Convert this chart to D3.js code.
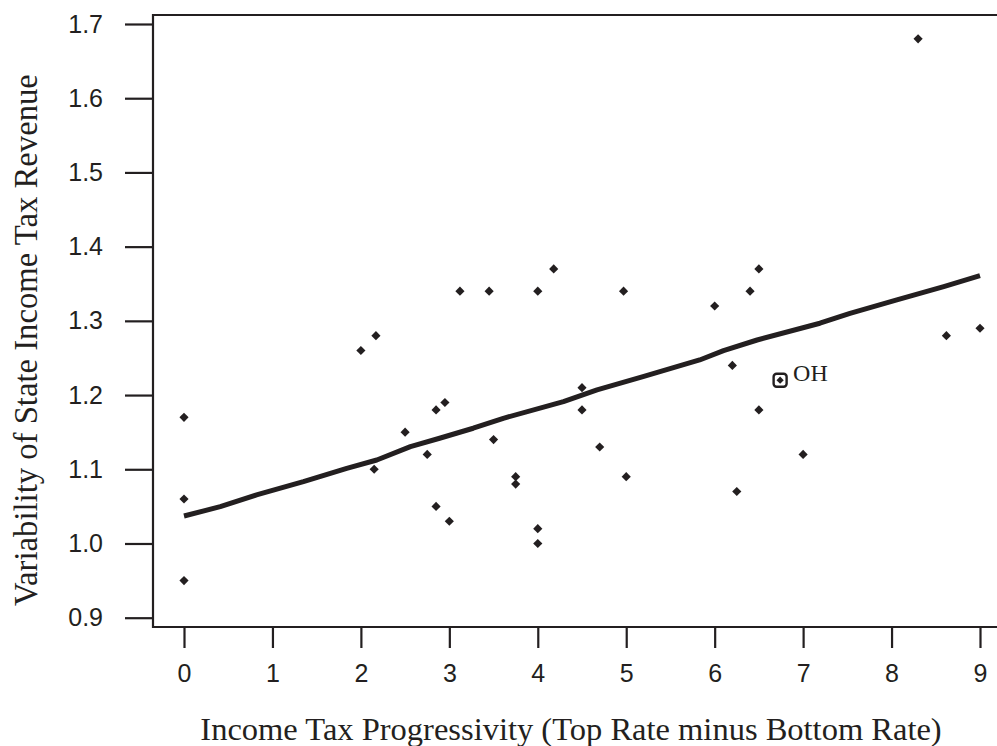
<!DOCTYPE html>
<html>
<head>
<meta charset="utf-8">
<script src="https://cdn.jsdelivr.net/npm/d3@7"></script>
<style>
  html, body { margin: 0; padding: 0; background: #fff; }
  svg { display: block; }
</style>
</head>
<body>
<svg id="chart" width="997" height="746"></svg>
<script>
// ---- data ----
const progressivity = [0, 0, 0, 2.0, 2.17, 2.15, 2.5, 2.75, 2.85, 2.95, 2.85, 3.0, 3.12, 3.45, 3.5, 3.75, 3.75,
  4.0, 4.18, 4.0, 4.0, 4.5, 4.5, 4.7, 4.97, 5.0, 6.0, 6.2, 6.25, 6.4, 6.5, 6.5, 7.0, 8.3, 8.62, 9.0];
const variability = [1.17, 1.06, 0.95, 1.26, 1.28, 1.10, 1.15, 1.12, 1.18, 1.19, 1.05, 1.03, 1.34, 1.34, 1.14, 1.09, 1.08,
  1.34, 1.37, 1.02, 1.00, 1.21, 1.18, 1.13, 1.34, 1.09, 1.32, 1.24, 1.07, 1.34, 1.37, 1.18, 1.12, 1.68, 1.28, 1.29];
const highlightLabel = "OH";
const highlightX = 6.74;
const highlightY = 1.22;
const fitX = [0, 0.41, 0.82, 1.35, 1.84, 2.18, 2.56, 2.89, 3.27, 3.61, 4.29, 4.67, 5.19, 5.83, 6.10, 6.48, 7.19, 7.53, 8.06, 8.59, 9.0];
const fitY = [1.037, 1.0496, 1.0654, 1.0833, 1.1013, 1.1125, 1.1305, 1.1418, 1.1553, 1.1687, 1.1911, 1.2069, 1.2248,
  1.2473, 1.2598, 1.2742, 1.2968, 1.3102, 1.3282, 1.3461, 1.3609];
const xTicks = [0, 1, 2, 3, 4, 5, 6, 7, 8, 9];
const yTicks = [0.9, 1.0, 1.1, 1.2, 1.3, 1.4, 1.5, 1.6, 1.7];
const xTitle = "Income Tax Progressivity (Top Rate minus Bottom Rate)";
const yTitle = "Variability of State Income Tax Revenue";

// ---- layout ----
const ink = "#231f20";
const svg = d3.select("#chart");
const frameLeft = 153, frameTop = 15, frameBottom = 627, frameRight = 1010;

const x = d3.scaleLinear().domain([0, 9]).range([184, 980]);
const y = d3.scaleLinear().domain([0.9, 1.7]).range([617.7, 24]);

// frame (left, top, bottom)
svg.append("path")
  .attr("d", `M${frameRight},${frameTop}H${frameLeft}V${frameBottom}H${frameRight}`)
  .attr("fill", "none").attr("stroke", ink).attr("stroke-width", 2.2);

// y axis
const yAxis = d3.axisLeft(y).tickValues(yTicks).tickFormat(d3.format(".1f"))
  .tickSize(28).tickPadding(22).tickSizeOuter(0);
const gy = svg.append("g").attr("transform", `translate(${frameLeft},0)`).call(yAxis);
gy.select(".domain").remove();
gy.selectAll(".tick line").attr("stroke", ink).attr("stroke-width", 2.2);
gy.selectAll(".tick text").attr("fill", ink)
  .style("font-family", "'Liberation Sans', Arial, sans-serif").style("font-size", "25px");

// x axis
const xAxis = d3.axisBottom(x).tickValues(xTicks).tickFormat(d3.format("d"))
  .tickSize(21).tickPadding(16).tickSizeOuter(0);
const gx = svg.append("g").attr("transform", `translate(0,${frameBottom})`).call(xAxis);
gx.select(".domain").remove();
gx.selectAll(".tick line").attr("stroke", ink).attr("stroke-width", 2.2);
gx.selectAll(".tick text").attr("fill", ink)
  .style("font-family", "'Liberation Sans', Arial, sans-serif").style("font-size", "25px");

// titles
svg.append("text")
  .attr("x", 571).attr("y", 740)
  .attr("text-anchor", "middle")
  .attr("fill", ink)
  .style("font-family", "'Liberation Serif', 'Times New Roman', serif")
  .style("font-size", "32.5px")
  .text(xTitle);

svg.append("text")
  .attr("transform", "translate(37,340) rotate(-90)")
  .attr("text-anchor", "middle")
  .attr("fill", ink)
  .style("font-family", "'Liberation Serif', 'Times New Roman', serif")
  .style("font-size", "32.7px")
  .text(yTitle);

// fitted line
const line = d3.line().x(d => x(d[0])).y(d => y(d[1])).curve(d3.curveLinear);
svg.append("path")
  .datum(d3.zip(fitX, fitY))
  .attr("d", line)
  .attr("fill", "none").attr("stroke", ink).attr("stroke-width", 5)
  .attr("stroke-linejoin", "round").attr("stroke-linecap", "butt");

// points
const diamond = d3.symbol().type(d3.symbolSquare).size(42);
svg.append("g").selectAll("path")
  .data(d3.zip(progressivity, variability))
  .join("path")
  .attr("d", diamond)
  .attr("transform", d => `translate(${x(d[0])},${y(d[1])}) rotate(45)`)
  .attr("fill", ink);

// highlighted state
const hx = x(highlightX), hy = y(highlightY);
svg.append("rect")
  .attr("x", hx - 6.5).attr("y", hy - 6.5).attr("width", 13).attr("height", 13)
  .attr("rx", 3).attr("ry", 3)
  .attr("fill", "none").attr("stroke", ink).attr("stroke-width", 2.4);
svg.append("path")
  .attr("d", d3.symbol().type(d3.symbolSquare).size(26))
  .attr("transform", `translate(${hx},${hy}) rotate(45)`)
  .attr("fill", ink);
svg.append("text")
  .attr("x", hx + 13).attr("y", hy + 1)
  .attr("fill", ink)
  .style("font-family", "'Liberation Serif', 'Times New Roman', serif")
  .style("font-size", "24px")
  .text(highlightLabel);
</script>
</body>
</html>
